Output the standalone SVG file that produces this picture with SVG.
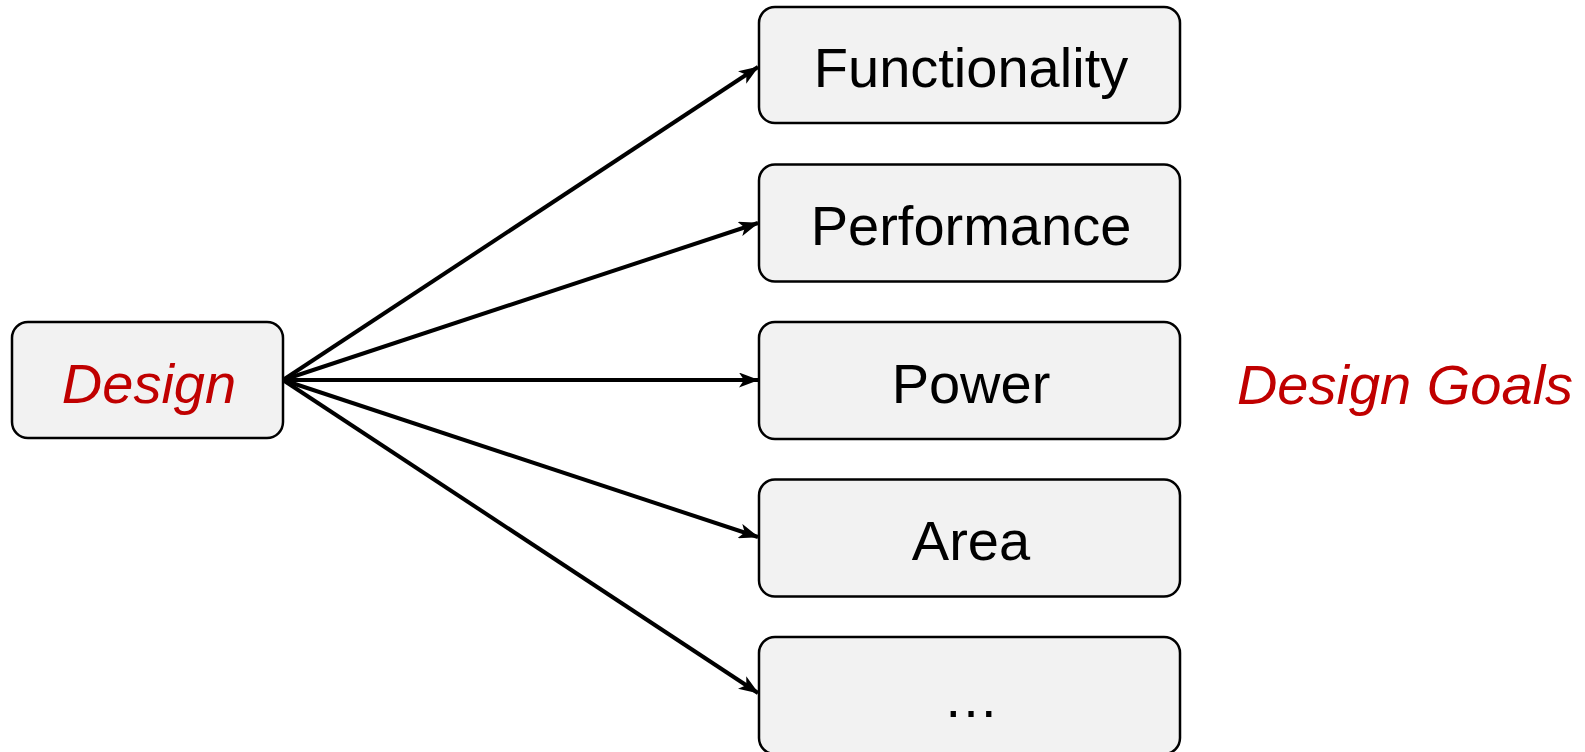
<svg xmlns="http://www.w3.org/2000/svg" width="1585" height="752" viewBox="0 0 1585 752">
  <style>
    .box { fill: #F2F2F2; stroke: #000000; stroke-width: 2.5; }
    .lbl { font-family: "Liberation Sans", Arial, sans-serif; font-size: 56px; fill: #000000; text-anchor: middle; }
    .red { fill: #C00000; font-style: italic; }
    .edge { fill: none; stroke: #000000; stroke-width: 4; marker-end: url(#arrow); }
  </style>
  <defs>
    <marker id="arrow" viewBox="0 0 20 15" refX="19" refY="7.5" markerWidth="20" markerHeight="15" markerUnits="userSpaceOnUse" orient="auto">
      <path d="M0,0 L20,7.5 L0,15 L5,7.5 Z" fill="#000000"/>
    </marker>
  </defs>
  <rect width="1585" height="752" fill="#FFFFFF"/>

  <g id="connectors">
    <path class="edge" d="M283,380 L758,67"/>
    <path class="edge" d="M283,380 L758,223"/>
    <path class="edge" d="M283,380 L758,380"/>
    <path class="edge" d="M283,380 L758,537"/>
    <path class="edge" d="M283,380 L758,693"/>
  </g>

  <g id="design">
    <rect class="box" x="12" y="322" width="271" height="116" rx="16"/>
    <text class="lbl red" x="149" y="403">Design</text>
  </g>

  <g id="functionality">
    <rect class="box" x="759" y="7" width="421" height="116" rx="16"/>
    <text class="lbl" x="971" y="87">Functionality</text>
  </g>

  <g id="performance">
    <rect class="box" x="759" y="164.5" width="421" height="117" rx="16"/>
    <text class="lbl" x="971" y="245">Performance</text>
  </g>

  <g id="power">
    <rect class="box" x="759" y="322" width="421" height="117" rx="16"/>
    <text class="lbl" x="971" y="403">Power</text>
  </g>

  <g id="area">
    <rect class="box" x="759" y="479.5" width="421" height="117" rx="16"/>
    <text class="lbl" x="971" y="560">Area</text>
  </g>

  <g id="more">
    <rect class="box" x="759" y="637" width="421" height="117" rx="16"/>
    <text class="lbl" x="971" y="717">…</text>
  </g>

  <g id="design-goals">
    <text class="lbl red" x="1405" y="404">Design Goals</text>
  </g>
</svg>
